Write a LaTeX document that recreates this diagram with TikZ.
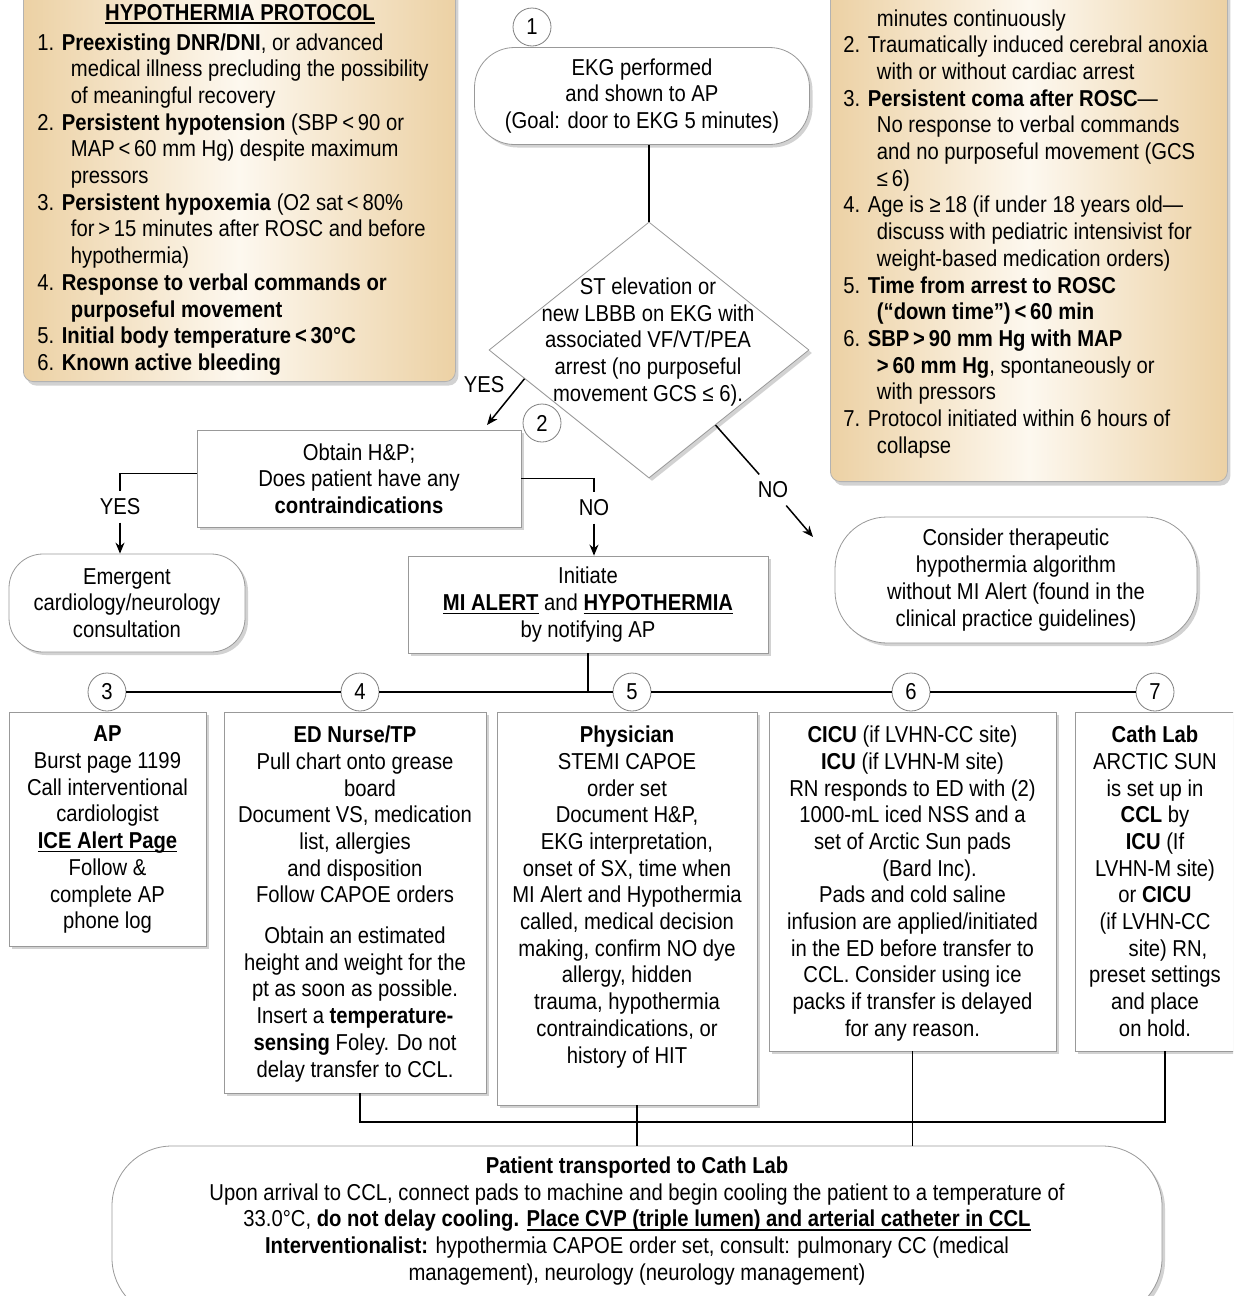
\documentclass[tikz,border=0pt]{standalone}
\usepackage{fontspec}
\setmainfont{Liberation Sans}[FakeStretch=0.88]
\usetikzlibrary{shapes.geometric,shadows,arrows.meta}
\usetikzlibrary{positioning}
\definecolor{tanedge}{RGB}{236,209,164}
\definecolor{tanmid}{RGB}{253,248,239}
\newcommand{\listindent}{\hspace*{16.75pt}}
\newcommand{\ulbox}[1]{\setbox0\hbox{#1}\rlap{\rule[-1.9pt]{\wd0}{0.8pt}}\box0\relax}

\begin{document}
\begin{tikzpicture}[x=0.5pt,y=-0.5pt,font=\fontsize{11.5}{13.35}\selectfont,
    >={Stealth[length=5.5pt,width=4.5pt]},
    box/.style={draw=gray!80,fill=white,align=center,inner sep=0pt,
        drop shadow={shadow xshift=1.5pt,shadow yshift=-1.5pt,opacity=.35}},
    pill/.style={box,rounded corners=20pt},
    decision/.style={diamond,draw=gray!80,fill=white,inner sep=0pt,
        minimum width=160pt,minimum height=128pt,
        drop shadow={shadow xshift=1.5pt,shadow yshift=-1.5pt,opacity=.35}},
    tanbox/.style={draw=gray!60,rounded corners=5pt,left color=tanedge,right color=tanedge,middle color=tanmid,
        drop shadow={shadow xshift=1.5pt,shadow yshift=-2pt,opacity=.35}},
    num/.style={circle,draw=gray,fill=white,inner sep=0pt,minimum size=19pt},
    txt/.style={align=center,inner sep=0pt},
    list/.style={align=left,inner sep=0pt},
    lab/.style={inner sep=3.5pt},
    link/.style={line width=0.75pt},
    bus/.style={line width=1.1pt}]

    \path[use as bounding box,fill=white] (0,0) rectangle (1233,1296);
    \clip (0,0) rectangle (1233,1296);

    % contraindication boxes
    \node[tanbox,minimum width=216pt,minimum height=230pt,anchor=south west] (cibox) at (23,382) {};
    \node[txt] (cititle) at (240,14) {\ulbox{\textbf{HYPOTHERMIA PROTOCOL}}};
    \node[list,anchor=north west] (cilist) at (37,33) {1. \textbf{Preexisting DNR/DNI}, or advanced\\
        \listindent medical illness precluding the possibility\\
        \listindent of meaningful recovery\\
        2. \textbf{Persistent hypotension} (SBP\,<\,90 or\\
        \listindent MAP\,<\,60 mm Hg) despite maximum\\
        \listindent pressors\\
        3. \textbf{Persistent hypoxemia} (O2 sat\,<\,80\%\\
        \listindent for\,>\,15 minutes after ROSC and before\\
        \listindent hypothermia)\\
        4. \textbf{Response to verbal commands or}\\
        \listindent\textbf{purposeful movement}\\
        5. \textbf{Initial body temperature\,<\,30°C}\\
        6. \textbf{Known active bleeding}};

    \node[tanbox,minimum width=198.5pt,minimum height=280pt,anchor=south west] (inbox) at (830,482) {};
    \node[list,anchor=north west] (inlist) at (843,9) {\listindent minutes continuously\\
        2. Traumatically induced cerebral anoxia\\
        \listindent with or without cardiac arrest\\
        3. \textbf{Persistent coma after ROSC}—\\
        \listindent No response to verbal commands\\
        \listindent and no purposeful movement (GCS\\
        \listindent ≤\,6)\\
        4. Age is ≥\,18 (if under 18 years old—\\
        \listindent discuss with pediatric intensivist for\\
        \listindent weight-based medication orders)\\
        5. \textbf{Time from arrest to ROSC}\\
        \listindent\textbf{(“down time”)\,<\,60 min}\\
        6. \textbf{SBP\,>\,90 mm Hg with MAP}\\
        \listindent\textbf{>\,60 mm Hg}, spontaneously or\\
        \listindent with pressors\\
        7. Protocol initiated within 6 hours of\\
        \listindent collapse};

    % decision path
    \node[pill,minimum width=167.5pt,minimum height=48.5pt] (ekg) at (642,96) {EKG performed\\and shown to AP\\(Goal: door to EKG 5 minutes)};
    \node[decision] (dia) at (649,350) {};
    \node[txt] (diatext) at (648,342) {ST elevation or\\new LBBB on EKG with\\associated VF/VT/PEA\\arrest (no purposeful\\movement GCS ≤ 6).};
    \node[box,minimum width=162pt,minimum height=48.5pt] (hp) at (359,478.5) {Obtain H\&P;\\Does patient have any\\\textbf{contraindications}};
    \node[pill,rounded corners=17pt,minimum width=118pt,minimum height=49pt] (emerg) at (127,603) {Emergent\\cardiology/neurology\\consultation};
    \node[box,minimum width=180pt,minimum height=48.5pt] (init) at (588,604.5) {Initiate\\\ulbox{\textbf{MI ALERT}} and \ulbox{\textbf{HYPOTHERMIA}}\\by notifying AP};
    \node[pill,rounded corners=26pt,minimum width=181pt,minimum height=63pt] (consider) at (1016,580) {Consider therapeutic\\hypothermia algorithm\\without MI Alert (found in the\\clinical practice guidelines)};

    \node[lab] (yes1) at (484,385) {YES};
    \node[lab] (no1) at (773,490) {NO};
    \node[lab] (yes2) at (120,507) {YES};
    \node[lab] (no2) at (594,508) {NO};
    \coordinate (yesend) at (487,425);
    \coordinate (noend) at (813,537);

    \draw[link] (ekg.south -| dia.north) -- (dia.north);
    \draw[link,->] (dia.193) -- (yesend);
    \draw[link] (dia) -- (no1);
    \draw[link,->] (no1) -- (noend);
    \draw[link] ([yshift=2.5pt]hp.west) -| (yes2.north);
    \draw[link,->] (yes2.south) -- (emerg.north -| yes2);
    \draw[link] (hp.east) -| (no2.north);
    \draw[link,->] (no2.south) -- (init.north -| no2);

    % team boxes
    \node[box,minimum width=98.5pt,minimum height=117pt] (ap) at (107.5,829) {};
    \node[box,minimum width=131pt,minimum height=190.5pt] (ed) at (355,902.5) {};
    \node[box,minimum width=130pt,minimum height=196.5pt] (phys) at (627,908.5) {};
    \node[box,minimum width=143.5pt,minimum height=169.5pt] (cicu) at (912.5,881.5) {};
    \node[box,minimum width=85pt,minimum height=169.5pt] (cath) at (1160,881.5) {};

    \node[txt,below=7pt of ap.north] (aptext) {\textbf{AP}\\Burst page 1199\\Call interventional\\cardiologist\\
        \ulbox{\textbf{ICE Alert Page}}\\Follow \&\\complete AP\\phone log};
    \node[txt,below=7pt of ed.north] (edtext) {\textbf{ED Nurse/TP}\\Pull chart onto grease\\\hspace*{15pt}board\\
        Document VS, medication\\list, allergies\\and disposition\\Follow CAPOE orders\\[7pt]
        Obtain an estimated\\height and weight for the\\pt as soon as possible.\\
        Insert a \textbf{temperature-}\\\textbf{sensing} Foley. Do not\\delay transfer to CCL.};
    \node[txt,below=7pt of phys.north] (phystext) {\textbf{Physician}\\STEMI CAPOE\\order set\\Document H\&P,\\
        EKG interpretation,\\onset of SX, time when\\MI Alert and Hypothermia\\called, medical decision\\
        making, confirm NO dye\\allergy, hidden\\trauma, hypothermia\\contraindications, or\\history of HIT};
    \node[txt,below=7pt of cicu.north] (cicutext) {\textbf{CICU} (if LVHN-CC site)\\\textbf{ICU} (if LVHN-M site)\\
        RN responds to ED with (2)\\1000-mL iced NSS and a\\set of Arctic Sun pads\\\hspace*{17pt}(Bard Inc).\\
        Pads and cold saline\\infusion are applied/initiated\\in the ED before transfer to\\
        CCL. Consider using ice\\packs if transfer is delayed\\for any reason.};
    \node[txt,below=7pt of cath.north,xshift=-2.5pt] (cathtext) {\textbf{Cath Lab}\\ARCTIC SUN\\is set up in\\\textbf{CCL} by\\
        \textbf{ICU} (If\\LVHN-M site)\\or \textbf{CICU}\\(if LVHN-CC\\\hspace*{13pt}site) RN,\\
        preset settings\\and place\\on hold.};

    \node[pill,rounded corners=30pt,minimum width=525pt,minimum height=86pt] (final) at (637,1232) {};
    \node[txt] (finaltext) at (637,1221) {\textbf{Patient transported to Cath Lab}\\
        Upon arrival to CCL, connect pads to machine and begin cooling the patient to a temperature of\\
        33.0°C, \textbf{do not delay cooling.} \ulbox{\textbf{Place CVP (triple lumen) and arterial catheter in CCL}}\\
        \textbf{Interventionalist:} hypothermia CAPOE order set, consult: pulmonary CC (medical\\
        management), neurology (neurology management)};

    % numbered steps
    \node[num] (n1) at (532,27) {1};
    \node[num] (n2) at (542,423) {2};
    \node[num] (n3) at (107,692) {3};
    \node[num] (n4) at (360,692) {4};
    \node[num] (n5) at (632,692) {5};
    \node[num] (n6) at (911,692) {6};
    \node[num] (n7) at (1155,692) {7};

    \draw[bus] (n3) -- (n4) -- (n5) -- (n6) -- (n7);
    \draw[link] (init.south) -- (init.south |- n5.center);

    \coordinate (jr) at (1165,1122);
    \draw[link] ([xshift=2.5pt]ed.south) |- (jr) -- (jr |- cath.south);
    \draw[link] (cicu.south) -- (cicu.south |- final.north);
    \draw[link] ([xshift=5pt]phys.south) -- ([xshift=5pt]phys.south |- final.north);

\end{tikzpicture}
\end{document}
